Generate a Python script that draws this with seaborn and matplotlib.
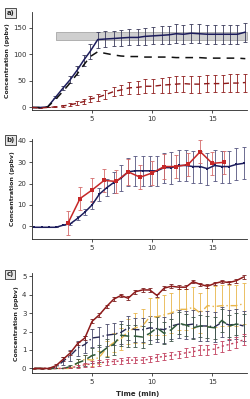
import numpy as np
import pandas as pd
import seaborn as sns
import matplotlib.pyplot as plt

sns.set_style("ticks")
plt.rcParams["font.family"] = ["DejaVu Sans"]
plt.rcParams["font.size"] = 5
plt.rcParams["axes.linewidth"] = 0.6
plt.rcParams["xtick.major.width"] = 0.6
plt.rcParams["ytick.major.width"] = 0.6
plt.rcParams["xtick.major.size"] = 2.5
plt.rcParams["ytick.major.size"] = 2.5

# ---- panel a data ----
t_a = [0, 0.65, 1.3, 1.95, 2.6, 3.2, 3.75, 4.3, 4.85, 5.47, 6.1, 6.8, 7.4, 8.1, 8.8,
       9.4, 10.1, 10.8, 11.4, 12.0, 12.6, 13.25, 13.9, 14.6, 15.25, 15.9, 16.5, 17.1, 17.75]
navy_a = [0, 0, 1, 19, 37, 53, 70, 89, 106, 128, 129, 130, 131, 132, 132,
          134, 135, 136, 137, 139, 138, 140, 139, 138, 138, 138, 138, 138, 142]
navy_a_err = [0, 0, 0, 2, 4, 6, 8, 10, 14, 15, 15, 15, 15, 15, 15,
              16, 16, 17, 17, 18, 18, 18, 18, 18, 18, 18, 18, 18, 18]
black_a = [0, 0, 1, 15, 31, 47, 63, 80, 96, 105, 102, 99, 97, 96, 96,
           95, 95, 95, 95, 94, 94, 94, 94, 93, 93, 93, 93, 93, 92]
red_a = [0, -1, 0, 1, 3, 5, 8, 11, 16, 19, 24, 30, 33, 37, 38,
         40, 40, 42, 43, 44, 45, 44, 44, 45, 45, 45, 46, 46, 47]
red_a_err = [0, 0, 0, 1, 2, 3, 4, 5, 6, 7, 8, 9, 10, 11, 12,
             13, 13, 14, 15, 15, 15, 16, 16, 16, 16, 16, 17, 17, 17]
band_a = (1.97, 17.9, 127, 142)

# ---- panel b data ----
t_b = [0.2, 0.8, 1.4, 2.0, 2.6, 3.2, 3.8, 4.4, 5.0, 5.6, 6.2, 6.8, 7.4, 8.0, 8.6,
       9.2, 9.8, 10.4, 11.0, 11.6, 12.2, 12.8, 13.4, 14.0, 14.6, 15.2, 15.8, 16.4, 17.0, 17.6]
navy_b = [-0.5, -0.5, -0.5, -0.5, 0.5, 1.2, 3.7, 6.6, 10, 15, 18, 20.5, 22.5, 25.5, 26,
          26, 26, 26, 27.5, 27.5, 28.5, 28.5, 28, 28, 27, 28.5, 28, 28, 29, 29.5]
navy_b_err = [0, 0, 0, 0, 0, 0.5, 1, 1.5, 2, 3, 4, 5, 6, 6.5, 7,
              7, 7, 7, 7, 7.5, 7.5, 7.5, 7.5, 7.5, 7.5, 7.5, 7.5, 7.5, 7.5, 7.5]
t_b_red = [3, 4, 5, 6, 7, 8, 9, 10, 11, 12, 13, 14, 15, 16]
red_b = [1.5, 13, 17, 21.5, 21, 25.5, 23, 25, 28, 28, 29, 35, 29.5, 30]
red_b_err = [5.5, 5.5, 5.5, 5.5, 5.5, 6, 5.5, 5.5, 6, 5.5, 5.5, 5.5, 5.5, 5.5]

# ---- panel c data ----
t_c = t_b
dred_c = [0, 0, 0, 0.15, 0.5, 0.85, 1.35, 1.65, 2.55, 2.9, 3.35, 3.75, 3.95, 3.8, 4.15,
          4.25, 4.25, 3.95, 4.35, 4.45, 4.4, 4.4, 4.7, 4.55, 4.45, 4.6, 4.7, 4.65, 4.75, 4.95]
dred_c_err = [0.05] * 3 + [0.1] * 27
navy_c = [0, 0, 0, 0.05, 0.4, 0.7, 1.1, 1.3, 1.65, 1.7, 1.8, 1.85, 1.95, 2.2, 2.1,
          2.1, 2.2, 2.15, 2.1, 2.3, 2.4, 2.35, 2.4, 2.3, 2.3, 2.25, 2.5, 2.35, 2.4, 2.3]
navy_c_err = [0, 0, 0, 0, 0.2, 0.3, 0.4, 0.45, 0.5, 0.55, 0.6, 0.6, 0.6, 0.65, 0.65,
              0.65, 0.65, 0.7, 0.7, 0.7, 0.75, 0.75, 0.75, 0.8, 0.8, 0.8, 0.8, 0.8, 0.8, 0.8]
green_c = [0, 0, 0, 0, 0, 0.1, 0.3, 0.45, 0.7, 0.8, 1.1, 1.3, 1.8, 1.75, 1.75,
           1.7, 1.9, 2.2, 1.9, 2.1, 2.45, 2.35, 2.2, 2.3, 2.25, 2.2, 2.6, 2.3, 2.4, 2.35]
green_c_err = [0, 0, 0, 0, 0, 0.1, 0.2, 0.3, 0.4, 0.45, 0.5, 0.55, 0.6, 0.6, 0.6,
               0.6, 0.6, 0.6, 0.6, 0.6, 0.6, 0.6, 0.6, 0.6, 0.6, 0.6, 0.6, 0.6, 0.6, 0.6]
gold_c = [0, 0, 0, 0, 0, 0, 0.3, 0.5, 0.45, 0.6, 1.1, 1.4, 1.6, 2.0, 2.2,
          2.3, 2.8, 2.8, 2.9, 3.0, 3.2, 3.2, 3.3, 3.0, 3.4, 3.35, 3.4, 3.4, 3.4, 3.5]
gold_c_err = [0, 0, 0, 0, 0, 0, 0.2, 0.25, 0.3, 0.35, 0.4, 0.5, 0.6, 0.7, 0.8,
              0.9, 1.0, 1.0, 1.1, 1.1, 1.1, 1.1, 1.1, 1.1, 1.1, 1.1, 1.1, 1.1, 1.1, 1.1]
pink_c = [0, 0, 0, 0, 0, 0.05, 0.1, 0.2, 0.25, 0.3, 0.35, 0.38, 0.4, 0.45, 0.45,
          0.45, 0.5, 0.6, 0.65, 0.7, 0.75, 0.85, 0.9, 1.0, 1.0, 1.05, 1.2, 1.3, 1.4, 1.55]
pink_c_err = [0, 0, 0, 0, 0, 0.05, 0.1, 0.12, 0.15, 0.15, 0.15, 0.15, 0.15, 0.15, 0.15,
              0.15, 0.15, 0.2, 0.2, 0.2, 0.2, 0.25, 0.25, 0.25, 0.25, 0.25, 0.3, 0.3, 0.3, 0.3]

NAVY = "#1c1c5c"
RED = "#c62828"
DRED = "#8e1b1b"
GOLD = "#e8b54a"
GREEN = "#2f5a3a"
PINK = "#c2405e"


def series(ax, x, y, err, color, ls, ecolor=None, lw=1.0, marker=None, ms=2):
    sns.lineplot(x=x, y=y, ax=ax, color=color, linestyle=ls, linewidth=lw,
                 marker=marker, markersize=ms, markeredgewidth=0, zorder=3)
    if err is not None:
        ax.errorbar(x, y, yerr=err, fmt="none", ecolor=ecolor or color,
                    elinewidth=0.6, capsize=1.5, capthick=0.6, zorder=2)


fig = plt.figure(figsize=(2.51, 3.99), dpi=100)
ax_a = fig.add_axes([0.1275, 0.724, 0.857, 0.246])
ax_b = fig.add_axes([0.1275, 0.401, 0.857, 0.251])
ax_c = fig.add_axes([0.1275, 0.065, 0.857, 0.25])

# panel a
ax_a.fill_between([band_a[0], band_a[1]], band_a[2], band_a[3], color="#cfcfcf",
                  edgecolor="#9a9a9a", linewidth=0.5, zorder=1)
series(ax_a, t_a, navy_a, navy_a_err, NAVY, "-", ecolor="#3a3a5a", lw=1.1)
series(ax_a, t_a, black_a, None, "#111111", (0, (5, 4)), lw=1.1)
series(ax_a, t_a, red_a, red_a_err, DRED, (0, (4, 3)), ecolor=DRED, lw=1.0)
ax_a.set_ylim(-5, 180)
ax_a.set_yticks([0, 50, 100, 150])

# panel b
series(ax_b, t_b, navy_b, navy_b_err, NAVY, "-", ecolor="#55557f", lw=1.1,
       marker="s", ms=2)
series(ax_b, t_b_red, red_b, red_b_err, RED, "-", ecolor="#d46a6a", lw=1.1,
       marker="s", ms=2.2)
ax_b.set_ylim(-6, 41)
ax_b.set_yticks([0, 10, 20, 30, 40])

# panel c
series(ax_c, t_c, gold_c, gold_c_err, GOLD, (0, (5, 2, 1, 2)), lw=1.0)
series(ax_c, t_c, navy_c, navy_c_err, "#2a2a55", (0, (5, 2, 1, 2)), ecolor="#4a4a6a", lw=1.0)
series(ax_c, t_c, green_c, green_c_err, GREEN, (0, (6, 3)), ecolor="#3e5548", lw=1.1)
series(ax_c, t_c, pink_c, pink_c_err, PINK, (0, (1.5, 2)), lw=1.0)
series(ax_c, t_c, dred_c, dred_c_err, DRED, "-", ecolor="#7a2020", lw=1.1)
ax_c.set_ylim(-0.25, 5.15)
ax_c.set_yticks([0, 1, 2, 3, 4, 5])

for ax, lab in zip([ax_a, ax_b, ax_c], ["a)", "b)", "c)"]):
    ax.set_xlim(0, 17.9)
    ax.set_xticks([5, 10, 15])
    ax.tick_params(labelsize=5, pad=1.5, colors="#333333")
    ax.set_ylabel("Concentration (ppbv)", fontsize=4.5, fontweight="bold", labelpad=2)
    ax.set_xlabel("")
    sns.despine(ax=ax)
    pos = ax.get_position()
    fig.text(0.025, pos.y1 + 0.005, lab, fontsize=5, fontweight="bold", va="top",
             bbox=dict(boxstyle="square,pad=0.25", fc="#e6e6e6", ec="#333333", lw=0.6))

fig.text(0.55, 0.004, "Time (min)", fontsize=5, fontweight="bold", ha="center", va="bottom")

fig.savefig("out.png", dpi=100)
